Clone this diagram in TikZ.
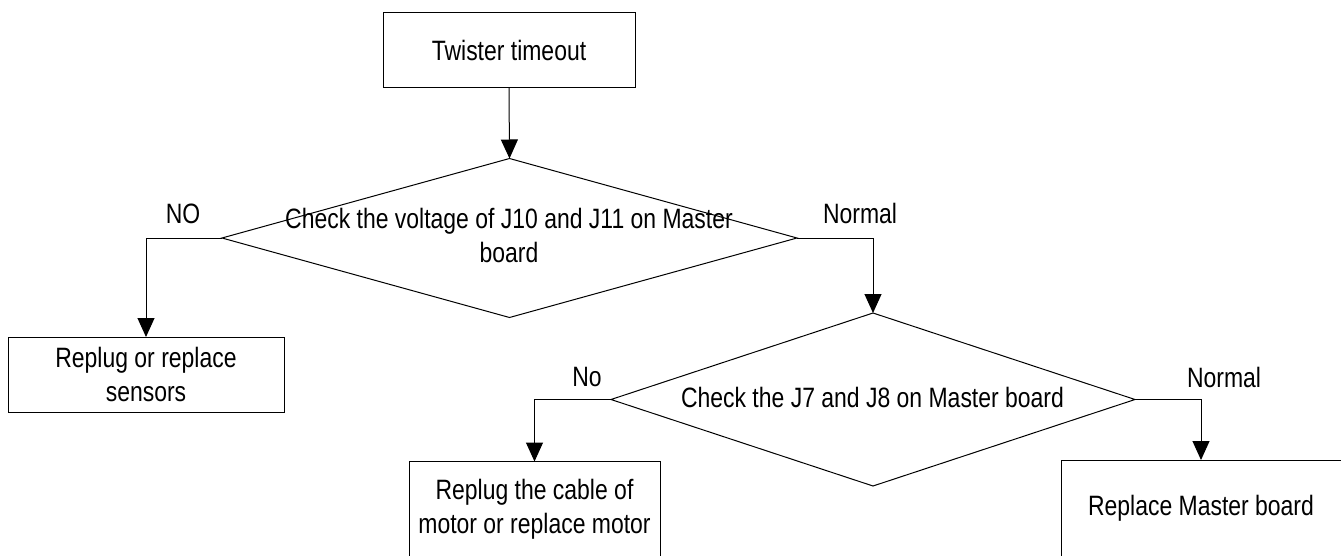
\documentclass[tikz,border=0pt]{standalone}
\usepackage{fontspec}
\setmainfont{Liberation Sans}[FakeStretch=0.82]
\usetikzlibrary{arrows.meta,shapes.geometric}
\begin{document}
\begin{tikzpicture}[x=1pt,y=-1pt,
  every node/.style={font=\fontsize{28}{34}\selectfont, inner sep=0pt, outer sep=0pt},
  box/.style={draw, rectangle, line width=1pt, align=center},
  dia/.style={draw, diamond, line width=1pt},
  conn/.style={draw, line width=1pt, -{Triangle[length=19pt,width=17pt]}},
  lbl/.style={anchor=base}
]
\useasboundingbox (0,0) rectangle (1341,556);
\node[box, minimum width=252pt, minimum height=75pt] (start) at (509,50.5) {Twister timeout};
\node[dia, minimum width=575pt, minimum height=159pt] (d1) at (509.5,238) {};
\node[align=center] (d1t) at (509,235) {Check the voltage of J10 and J11 on Master\\board};
\node[box, minimum width=276pt, minimum height=75pt] (b1) at (146,374.5) {Replug or replace\\sensors};
\node[dia, minimum width=524pt, minimum height=173pt] (d2) at (873,399.5) {};
\node[lbl] (d2t) at (872.5,407) {Check the J7 and J8 on Master board};
\node[box, minimum width=251pt, minimum height=96pt] (b3) at (534.5,509.5) {Replug the cable of\\motor or replace motor};
\node[box, minimum width=280pt, minimum height=97pt] (b4) at (1201,508.5) {Replace Master board};

\draw[conn] (start.south) -- (d1.north);
\draw[conn] (d1.west) -| (b1.north);
\draw[conn] (d1.east) -| (d2.north);
\draw[conn] (d2.west) -| (b3.north);
\draw[conn] (d2.east) -| (b4.north);

\node[lbl] (lno1) at (183,223) {NO};
\node[lbl] (lnorm1) at (860,224) {Normal};
\node[lbl] (lno2) at (587,386) {No};
\node[lbl] (lnorm2) at (1224,387) {Normal};
\end{tikzpicture}
\end{document}
